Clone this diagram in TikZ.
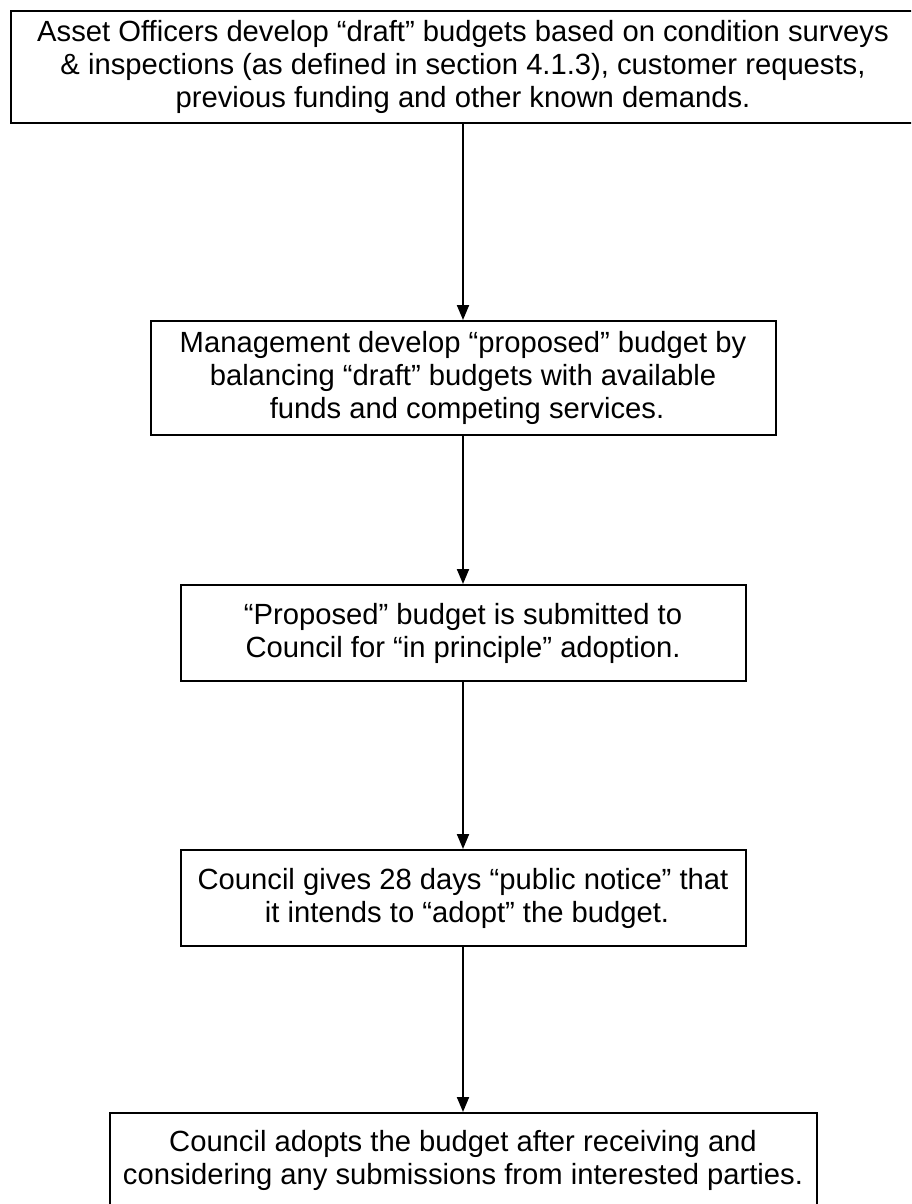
\documentclass[tikz,border=0pt]{standalone}
\usepackage{fontspec}
\setmainfont{Liberation Sans}
\usetikzlibrary{arrows.meta,positioning}

\begin{document}
\begin{tikzpicture}[x=0.5pt, y=-0.5pt, node distance=80pt,
  box_style/.style={rectangle,draw=black,line width=1pt,align=center,inner sep=0pt,
    font=\fontsize{14.6}{16.5}\selectfont},
  arrow_style/.style={draw=black, line width=1pt,-{Triangle[length=7.5pt,width=6pt]}}]

  \useasboundingbox (0,0) rectangle (911,1204);
  \clip (0,0) rectangle (911,1204);

  \node (b1) [box_style, minimum width=452pt, minimum height=56pt, anchor=north west] at (10,10)
    {Asset Officers develop “draft” budgets based on condition surveys\\
     \& inspections (as defined in section 4.1.3), customer requests,\\
     previous funding and other known demands.};
  \node (b2) [box_style, minimum width=312.5pt, minimum height=57pt, below=98pt of b1]
    {Management develop “proposed” budget by\\
     balancing “draft” budgets with available\\
     \ funds and competing services.};
  \node (b3) [box_style, minimum width=282.5pt, minimum height=48pt, below=74pt of b2]
    {“Proposed” budget is submitted to\\
     Council for “in principle” adoption.};
  \node (b4) [box_style, minimum width=282.5pt, minimum height=48pt, below=83.5pt of b3]
    {Council gives 28 days “public notice” that\\
     \ it intends to “adopt” the budget.};
  \node (b5) [box_style, minimum width=353.5pt, minimum height=47pt, below=82.5pt of b4]
    {Council adopts the budget after receiving and\\
     considering any submissions from interested parties.};
  %
  \draw [arrow_style] (b1) edge (b2);
  \draw [arrow_style] (b2) edge (b3);
  \draw [arrow_style] (b3) edge (b4);
  \draw [arrow_style] (b4) edge (b5);
\end{tikzpicture}
\end{document}
